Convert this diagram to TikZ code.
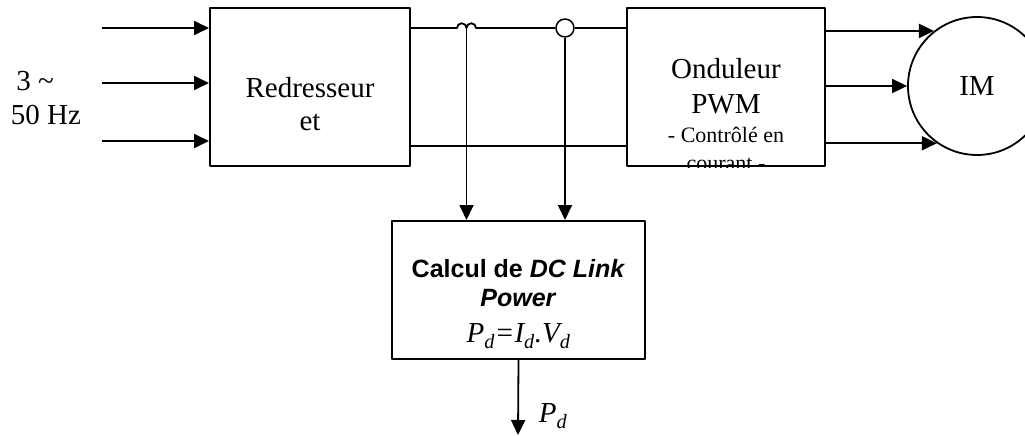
\documentclass[tikz,border=0pt]{standalone}
\usepackage{fontspec}
\setmainfont{Liberation Serif}
\newfontfamily\arialfont{Liberation Sans}
\usetikzlibrary{arrows.meta,calc}

\tikzset{
  bloc/.style={draw, line width=2pt, rectangle, inner sep=0pt},
  arr/.style={-{Triangle[length=15pt,width=14pt]}},
  big/.style={font=\fontsize{29}{33}\selectfont},
  small/.style={font=\fontsize{22}{28}\selectfont}
}

\begin{document}
\begin{tikzpicture}[x=1pt, y=-1pt, line width=1.8pt, line join=round]
  \useasboundingbox (0,0) rectangle (1025,436);
  % blocs
  \node[bloc, minimum width=200pt, minimum height=158pt] (rect) at (310,87) {};
  \node[bloc, minimum width=198pt, minimum height=158pt] (ond) at (726,87) {};
  \node[bloc, minimum width=253pt, minimum height=138pt] (calc) at (518.5,290) {};
  \node[draw, circle, line width=1.8pt, minimum size=138pt, inner sep=0pt] (IM) at (977,86) {};
  \node[draw, circle, line width=1.5pt, minimum size=18pt, inner sep=0pt] (sens) at (565,28) {};
  \coordinate (hump) at (466.5,28);
  % textes
  \node[big, align=center] (rectTxt) at (310,104) {Redresseur\\et};
  \begin{scope}
    \clip (ond.north west) rectangle (ond.south east);
    \node[font=\fontsize{29}{35}\selectfont, align=center] (ondTxtA) at (726,86) {Onduleur\\PWM};
    \node[small, align=center] (ondTxtB) at (726,149) {- Contrôlé en\\courant -};
  \end{scope}
  \node[big] (imTxt) at (IM.center) {IM};
  \node[big] (inA) at (35,81) {3 \textasciitilde};
  \node[big] (inB) at (46,115) {50 Hz};
  \node[font=\arialfont\bfseries\fontsize{25}{29}\selectfont, align=center] (calcTxt) at (518.5,283)
    {Calcul de \textit{DC Link}\\\textit{Power}};
  \node[big, font=\fontsize{29}{33}\selectfont\itshape] (calcEq) at (518.5,336)
    {P\textsubscript{d}=I\textsubscript{d}.V\textsubscript{d}};
  \node[big, font=\fontsize{29}{33}\selectfont\itshape] (pdTxt) at (553,416) {P\textsubscript{d}};
  % entrees
  \coordinate (in1) at (102,28);
  \coordinate (in2) at (102,83);
  \coordinate (in3) at (102,141);
  \foreach \i in {1,2,3}
    \draw[arr] (in\i) -- (in\i -| rect.west);
  % bus continu
  \draw (rect.east |- hump) -- (457,28)
    arc[start angle=180, end angle=360, radius=4.75]
    arc[start angle=180, end angle=360, radius=4.75] -- (sens.west);
  \draw (sens.east) -- (ond.west |- sens);
  \draw (rect.east |- 0,146) -- (ond.west |- 0,146);
  \draw[arr] (hump) -- (hump |- calc.north);
  \draw[arr] (sens.south) -- (sens |- calc.north);
  % sorties
  \draw[arr] (ond.east |- IM.128) -- (IM.128);
  \draw[arr] (ond.east |- IM.west) -- (IM.west);
  \draw[arr] (ond.east |- IM.235) -- (IM.235);
  \coordinate (pdOut) at (518,435);
  \draw[arr] (calc.south) -- (pdOut);
\end{tikzpicture}
\end{document}
